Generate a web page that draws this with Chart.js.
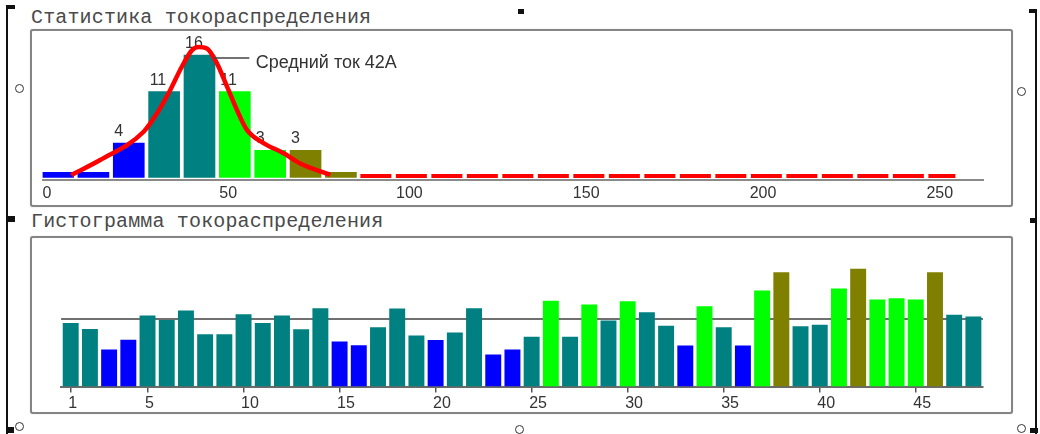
<!DOCTYPE html>
<html>
<head>
<meta charset="utf-8">
<script src="https://cdn.jsdelivr.net/npm/chart.js@4/dist/chart.umd.min.js"></script>
<style>
  body { margin: 0; width: 1040px; height: 434px; background: #fff; position: relative; overflow: hidden; }
  .title { position: absolute; left: 31px; font-family: "Liberation Mono", "Courier New", monospace; font-size: 20px; line-height: 20px; color: #4a4a4a; white-space: nowrap; letter-spacing: 0.15px; }
  .frame { position: absolute; left: 30px; width: 983px; height: 178px; box-sizing: border-box; border: 2px solid #858585; border-radius: 3px; box-shadow: 0 0 1px #aaa; background: #fff; }
  .frame canvas { display: block; }
  .mk { position: absolute; background: #111; }
  .hd { position: absolute; width: 7px; height: 7px; border: 1.5px solid #333; border-radius: 50%; background: #fff; }
</style>
</head>
<body>
<div class="mk" style="left:6px;top:5px;width:2px;height:429px"></div>
<div class="mk" style="left:1035px;top:9px;width:2px;height:425px"></div>
<div class="mk" style="left:7px;top:5px;width:8px;height:4px"></div>
<div class="mk" style="left:7px;top:216px;width:8px;height:6px"></div>
<div class="mk" style="left:7px;top:427px;width:7px;height:6px"></div>
<div class="mk" style="left:1029px;top:9px;width:7px;height:4px"></div>
<div class="mk" style="left:1030px;top:218px;width:7px;height:5px"></div>
<div class="mk" style="left:1030px;top:428px;width:8px;height:5px"></div>
<div class="mk" style="left:518px;top:9px;width:6px;height:5px"></div>
<div class="hd" style="left:15px;top:84px"></div>
<div class="hd" style="left:1017px;top:87px"></div>
<div class="hd" style="left:15px;top:422px"></div>
<div class="hd" style="left:1017px;top:424px"></div>
<div class="hd" style="left:515px;top:425px"></div>

<div class="title" style="top:8px">Статистика токораспределения</div>
<div class="frame" style="top:29px"><canvas id="stat" width="979" height="174"></canvas></div>
<div class="title" style="top:212px">Гистограмма токораспределения</div>
<div class="frame" style="top:236px"><canvas id="hist" width="979" height="174"></canvas></div>

<script>
// --- top chart: distribution of current by 10 A bins
const binCenters = [4.4, 14.4, 24.4, 34.4, 44.4, 54.4, 64.4, 74.4, 84.4];
const binCounts = [0, 0, 4, 11, 16, 11, 3, 3, 0];
const statTicks = [0, 50, 100, 150, 200, 250];

// red fitted curve
const curveX = [8.1, 16.3, 28.6, 32.4, 36.1, 39.4, 42.3, 44.1, 46.5, 49.3, 52.2, 55.0, 57.8, 62.5, 68.2, 72.9, 81.4];
const curveY = [-0.36, 1.68, 5.54, 8.05, 11.2, 14.4, 16.67, 17.1, 16.9, 14.9, 11.7, 8.5, 5.8, 4.0, 2.6, 1.2, -0.36];
const tailX = [89.9, 258.2];
const tailY = [-0.5, -0.5];
const meanLabel = "Средний ток 42A";

// --- bottom chart: current of each sample
const sampleNo = [1, 2, 3, 4, 5, 6, 7, 8, 9, 10, 11, 12, 13, 14, 15, 16, 17, 18, 19, 20, 21, 22, 23, 24,
  25, 26, 27, 28, 29, 30, 31, 32, 33, 34, 35, 36, 37, 38, 39, 40, 41, 42, 43, 44, 45, 46, 47, 48];
const sampleCurrent = [40.4, 36.6, 23.5, 29.8, 45.1, 42.3, 48.3, 33.2, 33.2, 45.9, 40.4, 45.1,
  36.4, 49.8, 28.6, 26.3, 37.7, 49.6, 32.4, 29.6, 34.3, 49.7, 20.3, 23.5,
  31.7, 54.6, 31.7, 52.1, 41.9, 54.2, 47.2, 38.7, 26.0, 51.0, 37.7, 26.0,
  61.0, 72.6, 38.3, 39.2, 62.4, 74.9, 55.4, 56.1, 55.4, 72.6, 45.7, 44.6];
const sampleTicks = [1, 5, 10, 15, 20, 25, 30, 35, 40, 45];
const meanCurrent = 43;

function colorFor(a) {
  if (a < 30) return "#0000ff";
  if (a < 50.5) return "#008080";
  if (a < 70) return "#00ff00";
  return "#808000";
}

Chart.defaults.font.family = "'Liberation Sans', Arial, sans-serif";
Chart.defaults.animation = false;
Chart.defaults.events = [];
Chart.defaults.plugins.legend.display = false;
Chart.defaults.plugins.tooltip.enabled = false;

const barLabels = {
  id: "barLabels",
  beforeDatasetsDraw(chart) {
    const meta = chart.getDatasetMeta(0);
    const ctx = chart.ctx;
    ctx.save();
    ctx.font = "16px 'Liberation Sans', Arial, sans-serif";
    ctx.fillStyle = "#333";
    ctx.textAlign = "left";
    meta.data.forEach((bar, i) => {
      if (!binCounts[i]) return;
      ctx.fillText(String(binCounts[i]), bar.x - bar.width / 2 + 1, bar.y - 7);
    });
    ctx.restore();
  },
  afterDatasetsDraw(chart) {
    const x = chart.scales.x, y = chart.scales.y, ctx = chart.ctx;
    const ly = y.getPixelForValue(15.6);
    ctx.save();
    ctx.strokeStyle = "#444";
    ctx.lineWidth = 1.5;
    ctx.beginPath();
    ctx.moveTo(x.getPixelForValue(48.5), ly);
    ctx.lineTo(x.getPixelForValue(58.5), ly);
    ctx.stroke();
    ctx.font = "18px 'Liberation Sans', Arial, sans-serif";
    ctx.fillStyle = "#333";
    ctx.textBaseline = "middle";
    ctx.fillText(meanLabel, x.getPixelForValue(60.3), ly + 5);
    ctx.restore();
  }
};

new Chart(document.getElementById("stat"), {
  type: "bar",
  data: {
    datasets: [
      {
        data: binCenters.map((c, i) => ({ x: c, y: binCounts[i] })),
        backgroundColor: binCenters.map(colorFor),
        base: -0.7,
        barThickness: 31,
        order: 3,
      },
      {
        type: "line",
        data: curveX.map((c, i) => ({ x: c, y: curveY[i] })),
        borderColor: "#ff0000",
        borderWidth: 4.5,
        pointRadius: 0,
        tension: 0.4,
        cubicInterpolationMode: "monotone",
        order: 1,
      },
      {
        type: "line",
        data: tailX.map((c, i) => ({ x: c, y: tailY[i] })),
        borderColor: "#ff0000",
        borderWidth: 4,
        borderDash: [31, 4.5],
        pointRadius: 0,
        order: 2,
      },
    ],
  },
  options: {
    responsive: false,
    layout: { padding: { left: 10.5, right: 28, top: 2, bottom: 0 } },
    scales: {
      x: {
        type: "linear",
        offset: false,
        min: 0,
        max: 266,
        afterFit: (s) => { s.height = 25; },
        grid: { offset: false, drawOnChartArea: false, drawTicks: false },
        border: { display: true, color: "#8a8a8a", width: 2 },
        ticks: {
          stepSize: 50,
          align: "start",
          padding: 4,
          color: "#333",
          font: { size: 16 },
          maxRotation: 0,
          callback: (v) => (statTicks.includes(v) ? String(v) : null),
        },
      },
      y: { display: false, min: -1.04, max: 19 },
    },
  },
  plugins: [barLabels],
});

const meanLine = {
  id: "meanLine",
  beforeDatasetsDraw(chart) {
    const a = chart.chartArea, y = chart.scales.y.getPixelForValue(meanCurrent), ctx = chart.ctx;
    ctx.save();
    ctx.strokeStyle = "#707070";
    ctx.lineWidth = 2;
    ctx.beginPath();
    ctx.moveTo(a.left, y);
    ctx.lineTo(a.right, y);
    ctx.stroke();
    ctx.restore();
  }
};

new Chart(document.getElementById("hist"), {
  type: "bar",
  data: {
    labels: sampleNo,
    datasets: [
      {
        data: sampleCurrent,
        backgroundColor: sampleCurrent.map(colorFor),
        barPercentage: 0.83,
        categoryPercentage: 1,
      },
    ],
  },
  options: {
    responsive: false,
    layout: { padding: { left: 29.1, right: 28, top: 7, bottom: 0 } },
    scales: {
      x: {
        afterFit: (s) => { s.height = 25.5; },
        grid: {
          offset: false,
          drawOnChartArea: false,
          drawTicks: true,
          tickLength: 6,
          lineWidth: 1.5,
          color: (c) => (sampleTicks.includes(sampleNo[c.index]) ? "#555" : "rgba(0,0,0,0)"),
        },
        border: { display: true, color: "#6a6a6a", width: 2 },
        ticks: {
          autoSkip: false,
          maxRotation: 0,
          align: "start",
          labelOffset: -2.5,
          padding: 1,
          color: "#333",
          font: { size: 16 },
          callback: (v, i) => (sampleTicks.includes(sampleNo[i]) ? String(sampleNo[i]) : ""),
        },
      },
      y: { display: false, min: 0, max: 90 },
    },
  },
  plugins: [meanLine],
});
</script>
</body>
</html>
